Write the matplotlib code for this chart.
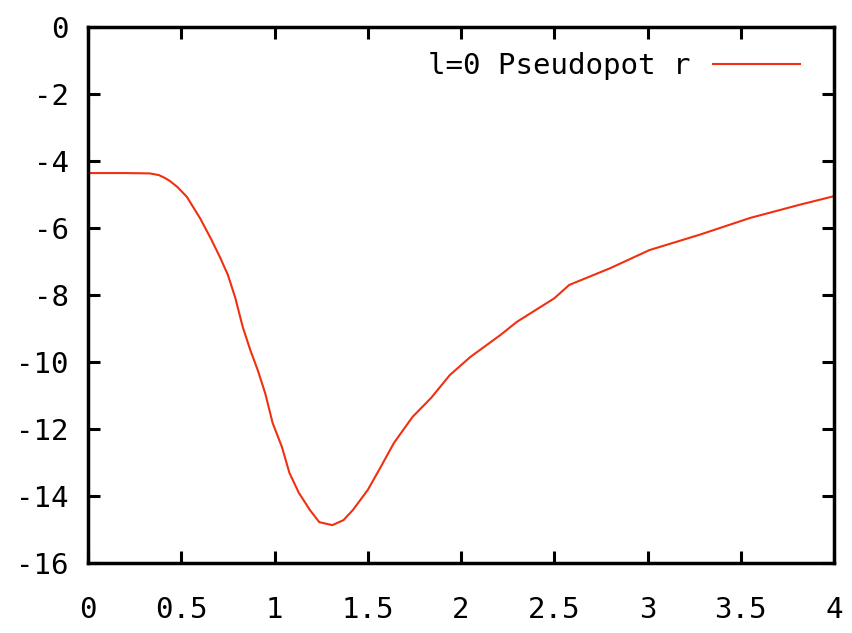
import numpy as np
import matplotlib.pyplot as plt

# значения
r = [0.0, 0.2, 0.33, 0.38, 0.41, 0.44, 0.48, 0.53, 0.60, 0.66, 0.71, 0.75, 0.79, 0.83,
     0.87, 0.91, 0.95, 0.99, 1.04, 1.08, 1.13, 1.19, 1.24, 1.31, 1.37, 1.42, 1.50,
     1.57, 1.64, 1.74, 1.84, 1.94, 2.05, 2.21, 2.30, 2.40, 2.50, 2.58, 2.80, 3.01,
     3.28, 3.55, 3.82, 4.0]
v = [-4.36, -4.36, -4.37, -4.42, -4.5, -4.6, -4.78, -5.07, -5.7, -6.33, -6.9, -7.4,
     -8.09, -8.96, -9.64, -10.24, -10.93, -11.82, -12.54, -13.31, -13.9, -14.42,
     -14.78, -14.87, -14.72, -14.42, -13.82, -13.13, -12.42, -11.64, -11.07, -10.39,
     -9.85, -9.2, -8.8, -8.45, -8.1, -7.7, -7.2, -6.66, -6.2, -5.7, -5.3, -5.05]

xticks = [0, 0.5, 1, 1.5, 2, 2.5, 3, 3.5, 4]
xlabels = ['0', '0.5', '1', '1.5', '2', '2.5', '3', '3.5', '4']
yticks = [0, -2, -4, -6, -8, -10, -12, -14, -16]

plt.rcParams['font.family'] = 'DejaVu Sans Mono'
plt.rcParams['axes.unicode_minus'] = False

fig = plt.figure(figsize=(8.52, 6.33), dpi=100)
ax = fig.add_axes([88 / 852, 70 / 633, 746 / 852, 536 / 633])

ax.plot(r, v, color='#f03010', lw=1.5, label='l=0 Pseudopot r')

ax.set_xlim(0, 4)
ax.set_ylim(-16, 0)
ax.set_xticks(xticks)
ax.set_xticklabels(xlabels)
ax.set_yticks(yticks)

for s in ax.spines.values():
    s.set_linewidth(2.5)
ax.tick_params(direction='in', length=8.5, width=2.2, top=True, right=True,
               labelsize=21)
ax.tick_params(axis='y', pad=14)
ax.tick_params(axis='x', pad=24)

ax.legend(loc='upper right', frameon=False, markerfirst=False, fontsize=21,
          handlelength=3.0, handletextpad=0.75, borderpad=0, borderaxespad=0,
          bbox_to_anchor=(800 / 852, 1 - 52 / 633), bbox_transform=fig.transFigure)

plt.savefig('out.png', dpi=100)
